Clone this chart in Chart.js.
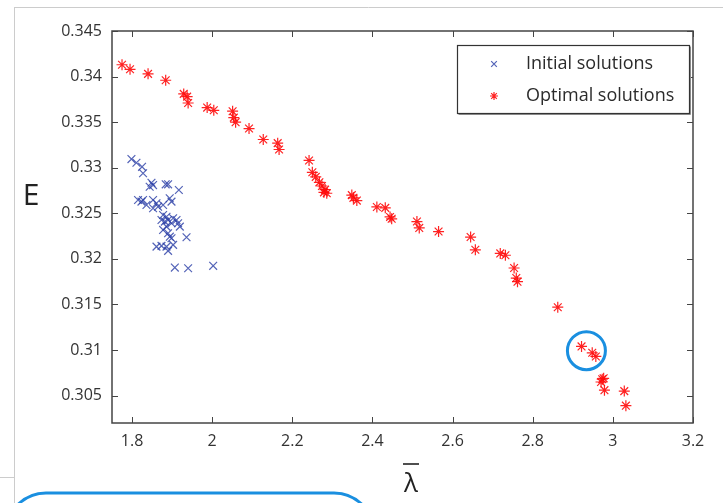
<!DOCTYPE html>
<html>
<head>
<meta charset="utf-8">
<script src="https://cdn.jsdelivr.net/npm/chart.js@4.4.1/dist/chart.umd.min.js"></script>
<style>
  html, body { margin: 0; padding: 0; background: #ffffff; }
  #wrap { width: 723px; height: 503px; position: relative; }
</style>
</head>
<body>
<div id="wrap"><canvas id="c" width="723" height="503"></canvas></div>
<script>
// ---- data ----
const initialX = [1.7985,1.811,1.825,1.8275,1.8485,1.8525,1.844,1.884,1.89,1.9168,
  1.815,1.8275,1.8235,1.836,1.8525,1.861,1.865,1.8525,1.8775,1.894,1.8985,
  1.8775,1.886,1.8735,1.8818,1.89,1.9025,1.911,1.915,1.8985,1.886,1.9193,
  1.8775,1.89,1.8943,1.8985,1.936,1.861,1.8735,1.886,1.89,1.9025,
  1.9068,1.94,2.0025];
const initialE = [0.33095,0.33055,0.3301,0.32939,0.32836,0.3281,0.32792,0.32818,0.32818,0.32756,
  0.32646,0.32646,0.32628,0.32592,0.32646,0.3261,0.32573,0.32555,0.32592,0.32665,0.32628,
  0.32482,0.32463,0.32427,0.32409,0.32427,0.32446,0.32427,0.32391,0.32391,0.32354,0.32354,
  0.32318,0.32282,0.32244,0.32227,0.32238,0.32135,0.32143,0.32135,0.32088,0.32154,
  0.31905,0.31898,0.31924];

const optimalX = [1.775,1.795,1.84,1.884,1.929,1.9375,1.94,1.9875,2.004,2.051,2.054,2.0585,
  2.092,2.1275,2.1635,2.167,2.2418,2.25,2.2585,2.2675,2.274,2.2818,2.286,2.279,
  2.3485,2.3525,2.361,2.411,2.432,2.444,2.448,2.511,2.5168,2.565,2.645,2.6568,
  2.719,2.7318,2.7535,2.759,2.762,2.8625,2.9218,2.9485,2.9575,2.9735,2.977,2.9705,
  2.979,3.0285,3.0325];
const optimalE = [0.3413,0.3408,0.3403,0.3396,0.3381,0.3378,0.3371,0.3366,0.3363,0.3362,0.3355,0.3350,
  0.3343,0.3331,0.3327,0.3320,0.3308,0.3295,0.3290,0.3284,0.3280,0.3276,0.3272,0.3273,
  0.3270,0.3267,0.3264,0.3257,0.3256,0.3246,0.3244,0.3241,0.3234,0.3230,0.3224,0.3210,
  0.3206,0.3204,0.3190,0.3179,0.3175,0.3147,0.3104,0.3097,0.3093,0.3068,0.3069,0.3065,
  0.3056,0.3055,0.3039];

const xTicks = [1.8,2.0,2.2,2.4,2.6,2.8,3.0,3.2];
const yTicks = [0.305,0.31,0.315,0.32,0.325,0.33,0.335,0.34,0.345];
const xRange = [1.75, 3.2];
const yRange = [0.302, 0.345];
const seriesLabels = ["Initial solutions", "Optimal solutions"];
const xTitle = "λ";
const yTitle = "E";
const highlight = { x: 2.934, y: 0.30993 };   // circled points

const toPts = (xs, ys) => xs.map((x, i) => ({ x: x, y: ys[i] }));
const fmt = v => String(Number(v.toFixed(3)));

const AXIS_COLOR = '#444444';
const TEXT_COLOR = '#333333';
const FONT = '"Open Sans", "Noto Sans", sans-serif';

const decor = {
  id: 'decor',
  beforeDraw(chart) {
    const ctx = chart.ctx;
    ctx.save();
    ctx.fillStyle = '#ffffff';
    ctx.fillRect(0, 0, chart.width, chart.height);
    ctx.strokeStyle = '#cccccc';
    ctx.lineWidth = 1;
    ctx.beginPath();
    ctx.moveTo(14, 7.5); ctx.lineTo(chart.width, 7.5);
    ctx.moveTo(14.5, 7); ctx.lineTo(14.5, chart.height);
    ctx.moveTo(0, 477.5); ctx.lineTo(14, 477.5);
    ctx.stroke();
    ctx.restore();
  },
  afterDraw(chart) {
    const ctx = chart.ctx;
    const xs = chart.scales.x, ys = chart.scales.y;
    const a = chart.chartArea;
    ctx.save();
    ctx.strokeStyle = AXIS_COLOR;
    ctx.lineWidth = 1.5;
    ctx.strokeRect(a.left, a.top, a.right - a.left, a.bottom - a.top);
    ctx.lineWidth = 1;
    ctx.beginPath();
    const tl = 6;
    xTicks.forEach(v => {
      const px = Math.round(xs.getPixelForValue(v)) + 0.5;
      ctx.moveTo(px, a.bottom); ctx.lineTo(px, a.bottom - tl);
      ctx.moveTo(px, a.top); ctx.lineTo(px, a.top + tl);
    });
    yTicks.forEach(v => {
      const py = Math.round(ys.getPixelForValue(v)) + 0.5;
      ctx.moveTo(a.left, py); ctx.lineTo(a.left + tl, py);
      ctx.moveTo(a.right, py); ctx.lineTo(a.right - tl, py);
    });
    ctx.stroke();

    // axis titles
    ctx.fillStyle = '#222222';
    ctx.textAlign = 'center';
    ctx.textBaseline = 'middle';
    ctx.font = '30px ' + FONT;
    ctx.fillText(yTitle, 31, 196);
    ctx.font = '26px ' + FONT;
    ctx.textBaseline = 'alphabetic';
    ctx.fillText(xTitle, 411, 492);
    ctx.lineWidth = 1.6;
    ctx.strokeStyle = '#222222';
    ctx.beginPath();
    ctx.moveTo(403, 464); ctx.lineTo(419, 464);
    ctx.stroke();

    // legend
    const lx = 457.5, ly = 45.5, lw = 232, lh = 68;
    ctx.fillStyle = '#ffffff';
    ctx.fillRect(lx, ly, lw, lh);
    ctx.strokeStyle = '#333333';
    ctx.lineWidth = 1.2;
    ctx.strokeRect(lx, ly, lw, lh);
    ctx.strokeStyle = '#888888';
    ctx.lineWidth = 1;
    ctx.beginPath();
    ctx.moveTo(lx + 1, ly + lh + 1); ctx.lineTo(lx + lw + 1, ly + lh + 1); ctx.lineTo(lx + lw + 1, ly + 1);
    ctx.stroke();
    const rows = [64, 96];
    chart.data.datasets.forEach((ds, i) => {
      ctx.strokeStyle = ds.borderColor;
      ctx.fillStyle = ds.backgroundColor;
      ctx.lineWidth = ds.borderWidth;
      Chart.helpers.drawPoint(ctx, { pointStyle: ds.pointStyle, radius: 4, borderWidth: ds.borderWidth, rotation: 0 }, 494, rows[i]);
      ctx.fillStyle = '#2b2b2b';
      ctx.font = '18px ' + FONT;
      ctx.textAlign = 'left';
      ctx.textBaseline = 'middle';
      ctx.fillText(ds.label, 526, rows[i]);
    });

    // highlight circle
    const cx = xs.getPixelForValue(highlight.x), cy = ys.getPixelForValue(highlight.y);
    ctx.strokeStyle = '#1a8fe0';
    ctx.lineWidth = 3;
    ctx.beginPath();
    ctx.arc(cx, cy, 19, 0, Math.PI * 2);
    ctx.stroke();

    // rounded callout box at the bottom
    ctx.beginPath();
    ctx.roundRect(6, 493, 368, 80, 45);
    ctx.stroke();
    ctx.restore();
  }
};

new Chart(document.getElementById('c'), {
  type: 'scatter',
  data: {
    datasets: [
      {
        label: seriesLabels[0],
        data: toPts(initialX, initialE),
        pointStyle: 'crossRot',
        pointRadius: 5.5,
        pointHoverRadius: 5.5,
        borderWidth: 1.2,
        borderColor: 'rgba(40,60,165,0.8)',
        backgroundColor: 'rgba(40,60,165,0.8)'
      },
      {
        label: seriesLabels[1],
        data: toPts(optimalX, optimalE),
        pointStyle: 'star',
        pointRadius: 5.5,
        pointHoverRadius: 5.5,
        borderWidth: 1.2,
        borderColor: 'rgba(255,10,10,0.9)',
        backgroundColor: 'rgba(255,10,10,0.9)'
      }
    ]
  },
  options: {
    responsive: false,
    animation: false,
    events: [],
    layout: { padding: { left: 0, top: 31, right: 30, bottom: 0 } },
    plugins: { legend: { display: false }, tooltip: { enabled: false } },
    scales: {
      x: {
        type: 'linear',
        min: xRange[0], max: xRange[1],
        afterBuildTicks: s => { s.ticks = xTicks.map(v => ({ value: v })); },
        afterFit: s => { s.height = 80; },
        grid: { display: false, drawTicks: false },
        border: { display: false },
        ticks: {
          padding: 9,
          color: TEXT_COLOR,
          font: { family: FONT, size: 16 },
          callback: v => fmt(v),
          maxRotation: 0, autoSkip: false
        }
      },
      y: {
        type: 'linear',
        min: yRange[0], max: yRange[1],
        afterBuildTicks: s => { s.ticks = yTicks.map(v => ({ value: v })); },
        afterFit: s => { s.width = 112; },
        grid: { display: false, drawTicks: false },
        border: { display: false },
        ticks: {
          padding: 10,
          color: TEXT_COLOR,
          font: { family: FONT, size: 16 },
          callback: v => fmt(v),
          autoSkip: false
        }
      }
    }
  },
  plugins: [decor]
});
</script>
</body>
</html>
